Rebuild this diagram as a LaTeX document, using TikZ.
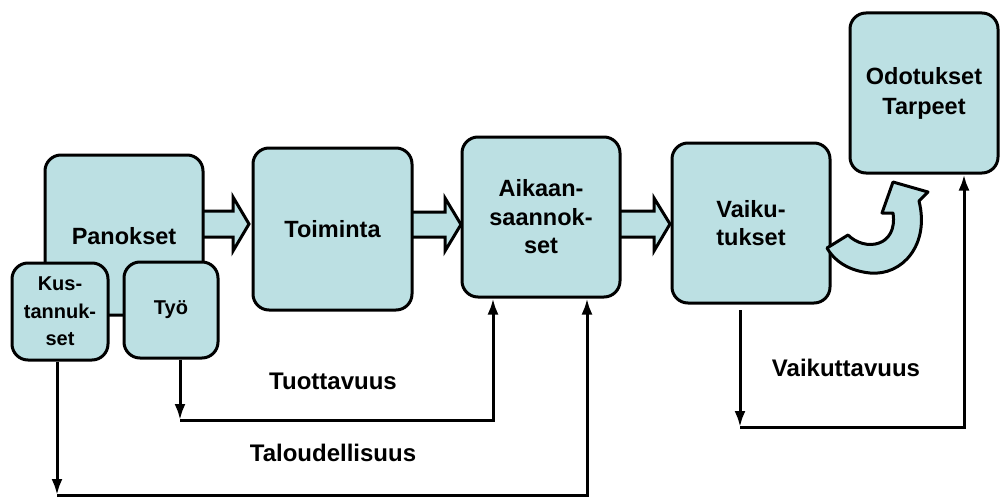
\documentclass[tikz,border=0pt]{standalone}
\usepackage{fontspec}
\setmainfont{Liberation Sans}
\usetikzlibrary{arrows.meta,calc}
\definecolor{boxfill}{RGB}{188,224,227}
\tikzset{
  box/.style={draw=black, line width=3pt, fill=boxfill, rounded corners=16pt, inner sep=0pt, align=center,
    font=\fontsize{23.5}{28.5}\selectfont\bfseries},
  smallbox/.style={box, font=\fontsize{20}{27.5}\selectfont\bfseries},
  blockarrow/.style={draw=black, line width=3pt, fill=boxfill, line join=miter},
  arr/.style={draw=black, line width=3pt, -{Latex[length=16pt,width=11pt]}},
  lbl/.style={font=\fontsize{24}{26}\selectfont\bfseries, inner sep=0pt}
}
\begin{document}
\begin{tikzpicture}[x=1pt,y=-1pt]
\useasboundingbox (0,0) rectangle (1000,500);
% block arrows (drawn under boxes)
\draw[blockarrow] (195,211) -- (233,211) -- (233,197) -- (249,224) -- (233,251) -- (233,237) -- (195,237) ;
\draw[blockarrow] (405,212) -- (445,212) -- (445,198) -- (461,224.5) -- (445,251) -- (445,237) -- (405,237);
\draw[blockarrow] (612,211) -- (654,211) -- (654,198) -- (670,224) -- (654,251) -- (654,237) -- (612,237);
% boxes
\node[box, minimum width=158pt, minimum height=160pt, text depth=0pt] (pan) at (124,235) {\raisebox{-2pt}{Panokset}};
\node[smallbox, minimum width=96pt, minimum height=97pt] (kus) at (60,311.5) {Kus-\\tannuk-\\set};
\node[smallbox, minimum width=94pt, minimum height=96pt] (tyo) at (171,310) {Työ};
\node[box, minimum width=159pt, minimum height=162pt] (toi) at (332.5,229) {Toiminta};
\node[box, minimum width=158pt, minimum height=160pt] (aik) at (541,217) {Aikaan-\\saannok-\\set};
\node[box, minimum width=158pt, minimum height=160pt] (vai) at (751,223) {Vaiku-\\tukset};
\node[box, minimum width=148pt, minimum height=160pt, font=\fontsize{23.5}{30}\selectfont\bfseries] (odo) at (924,93) {Odotukset\\Tarpeet};
% curved block arrow
\draw[blockarrow, line join=round] (827,248) -- (848,235)
  .. controls (865,252) and (898,247) .. (893,213)
  -- (882,213) -- (893,182) -- (928,192) -- (919,201)
  .. controls (930,245) and (902,276) .. (870,273)
  .. controls (850,271) and (835,262) .. cycle;
% connectors
\coordinate (c1) at (180,420);
\coordinate (c2) at (493,420);
\coordinate (c3) at (57,495);
\coordinate (c4) at (587,495);
\coordinate (c5) at (740,427);
\coordinate (c6) at (964,427);
\coordinate (v0) at (740,310);
\draw[arr] (tyo.south -| c1) -- (c1);
\draw[arr] (c1) -- (c2) -- (c2 |- aik.south);
\draw[arr] (kus.south -| c3) -- (c3);
\draw[arr] (c3) -- (c4) -- (c4 |- aik.south);
\draw[arr] (v0) -- (c5);
\draw[arr] (c5) -- (c6) -- (c6 |- odo.south);
% labels
\node[lbl] (tuo) at (333,381) {Tuottavuus};
\node[lbl] (tal) at (333,453) {Taloudellisuus};
\node[lbl] (vak) at (846,368) {Vaikuttavuus};
\end{tikzpicture}
\end{document}
